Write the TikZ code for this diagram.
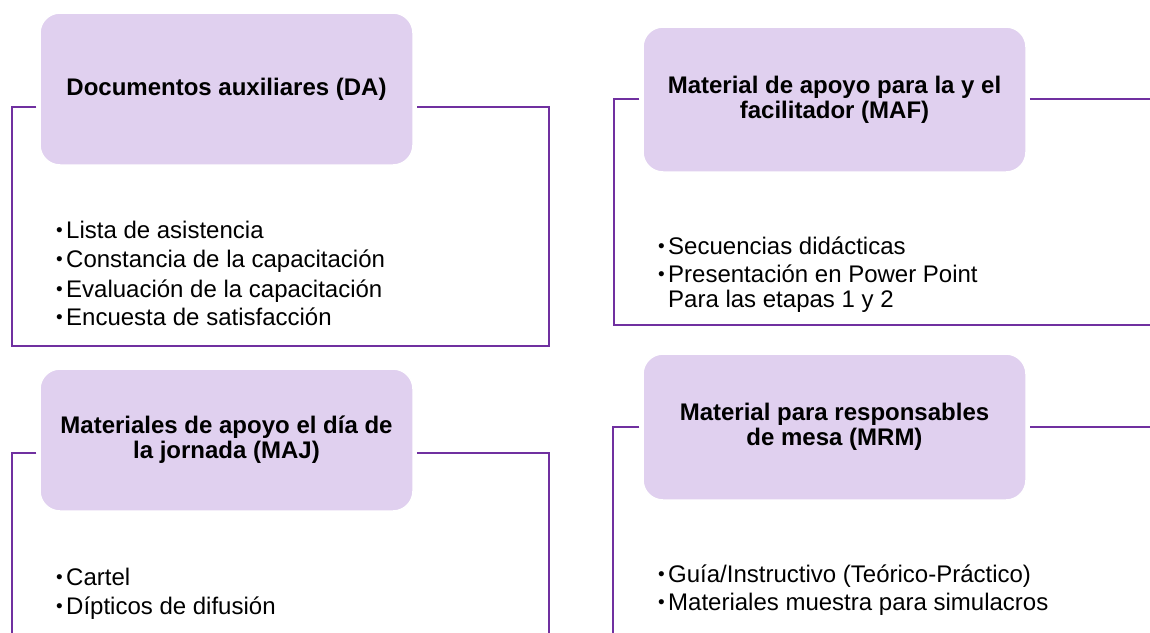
\documentclass[tikz,border=0pt]{standalone}
\usepackage{fontspec}
\setmainfont{Liberation Sans}
\definecolor{boxfill}{RGB}{224,208,239}
\definecolor{framepurple}{RGB}{112,48,160}
\newcommand\bul{\makebox[11pt][l]{\hspace{1pt}\raisebox{1.2pt}{\fontsize{19}{19}\selectfont •}}}
\begin{document}
\begin{tikzpicture}[x=1pt,y=-1pt,
  hdr/.style={fill=boxfill, draw=white, line width=1.5pt, rounded corners=20pt,
    align=center, font=\bfseries\fontsize{24}{25}\selectfont, inner sep=0pt},
  frame/.style={draw=framepurple, line width=2.8pt},
  item/.style={anchor=base west, inner sep=0pt, font=\fontsize{24}{29}\selectfont}]
\useasboundingbox (0,0) rectangle (1150,632);
\clip (0,0) rectangle (1150,632);

% header boxes
\node[hdr, minimum width=373pt, minimum height=152pt] (da) at (226.5,89) {Documentos auxiliares (DA)};
\node[hdr, minimum width=383pt, minimum height=145pt] (maf) at (834.5,99.5) {Material de apoyo para la y el\\facilitador (MAF)};
\node[hdr, minimum width=373pt, minimum height=142pt] (maj) at (226.5,440) {Materiales de apoyo el día de\\la jornada (MAJ)};
\node[hdr, minimum width=383pt, minimum height=146pt] (mrm) at (834.5,427) {Material para responsables\\de mesa (MRM)};

% frames
\coordinate (daBL) at (12,346);
\coordinate (daTR) at (549,107);
\draw[frame] ([xshift=-3pt]da.west |- 0,107) -| (daBL) -| (daTR) -- ([xshift=3pt]da.east |- 0,107);

\coordinate (mafBL) at (614,325);
\coordinate (mafBR) at (1160,325);
\coordinate (mafR) at (1160,99);
\draw[frame] ([xshift=-3pt]maf.west |- 0,99) -| (mafBL) -- (mafBR);
\draw[frame] ([xshift=3pt]maf.east |- 0,99) -- (mafR);

\coordinate (majBL) at (12,645);
\coordinate (majBR) at (549,645);
\draw[frame] ([xshift=-3pt]maj.west |- 0,453) -| (majBL);
\draw[frame] ([xshift=3pt]maj.east |- 0,453) -| (majBR);

\coordinate (mrmBL) at (613,645);
\coordinate (mrmR) at (1160,427);
\draw[frame] ([xshift=-3pt]mrm.west |- 0,427) -| (mrmBL);
\draw[frame] ([xshift=3pt]mrm.east |- 0,427) -- (mrmR);

% lists
\node[item] (da1) at (55,238) {\bul Lista de asistencia};
\node[item] (da2) at (55,267) {\bul Constancia de la capacitación};
\node[item] (da3) at (55,297) {\bul Evaluación de la capacitación};
\node[item] (da4) at (55,325) {\bul Encuesta de satisfacción};

\node[item] (maf1) at (657,254) {\bul Secuencias didácticas};
\node[item] (maf2) at (657,282) {\bul Presentación en Power Point};
\node[item] (maf3) at (668,307) {Para las etapas 1 y 2};

\node[item] (maj1) at (55,585) {\bul Cartel};
\node[item] (maj2) at (55,614) {\bul Dípticos de difusión};

\node[item] (mrm1) at (657,582) {\bul Guía/Instructivo (Teórico-Práctico)};
\node[item] (mrm2) at (657,610) {\bul Materiales muestra para simulacros};
\end{tikzpicture}
\end{document}
